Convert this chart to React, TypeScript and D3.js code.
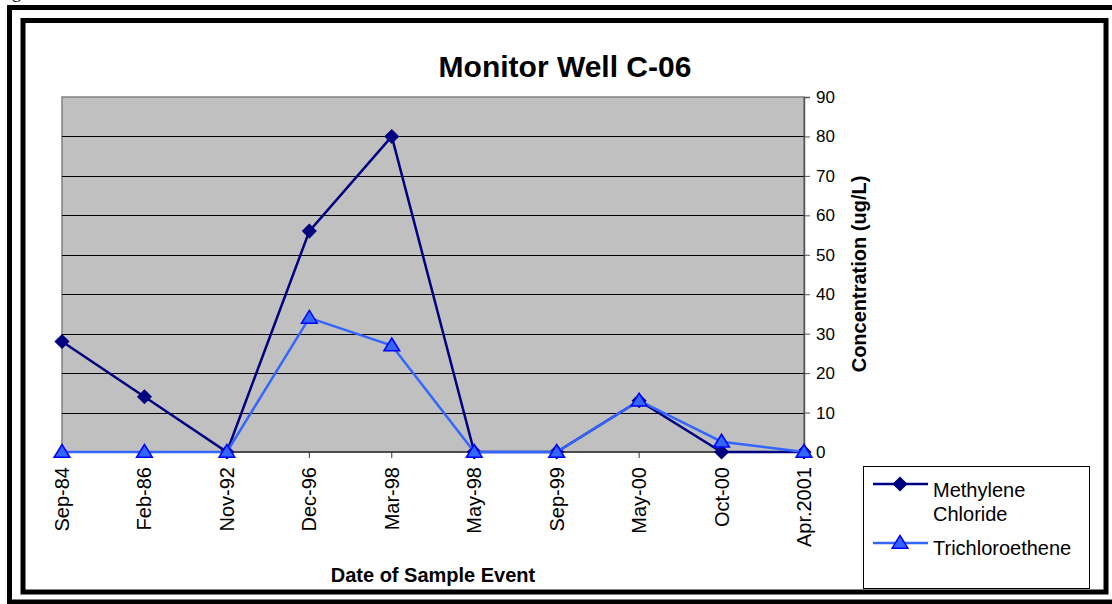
import * as d3 from "d3";
import { useEffect, useRef } from "react";

const categories = [
  "Sep-84",
  "Feb-86",
  "Nov-92",
  "Dec-96",
  "Mar-98",
  "May-98",
  "Sep-99",
  "May-00",
  "Oct-00",
  "Apr.2001",
];
const methyleneChloride = [28, 14, 0, 56, 80, 0, 0, 13, 0, 0];
const trichloroethene = [0, 0, 0, 34, 27, 0, 0, 13, 2.6, 0];
const yTicks = [0, 10, 20, 30, 40, 50, 60, 70, 80, 90];

const width = 1112;
const height = 604;
const FONT = "'Liberation Sans', Arial, sans-serif";

function diamondPath(cx: number, cy: number, r: number) {
  return `M${cx},${cy - r}L${cx + r},${cy}L${cx},${cy + r}L${cx - r},${cy}Z`;
}

function trianglePath(cx: number, cy: number, r: number) {
  return `M${cx},${cy - r}L${cx + r * 1.05},${cy + r * 0.7}L${cx - r * 1.05},${cy + r * 0.7}Z`;
}

export default function App() {
  const svgRef = useRef<SVGSVGElement>(null);

  useEffect(() => {
    if (!svgRef.current) return;
    const svg = d3.select(svgRef.current);
    svg.selectAll("*").remove();

    const plot = { left: 62, right: 804, top: 97, bottom: 452 };

    const xScale = d3
      .scalePoint<string>()
      .domain(categories)
      .range([plot.left, plot.right]);
    const yScale = d3
      .scaleLinear()
      .domain([0, 90])
      .range([plot.bottom, plot.top]);

    svg.append("rect").attr("width", width).attr("height", height).attr("fill", "white");

    // bit of text cut off from above the picture
    svg
      .append("text")
      .attr("x", 12)
      .attr("y", -2)
      .style("font-family", "'Liberation Serif', serif")
      .style("font-size", "18px")
      .text("g");

    // double frame
    svg
      .append("rect")
      .attr("x", 9.5)
      .attr("y", 7.5)
      .attr("width", 1110)
      .attr("height", 594.5)
      .attr("fill", "none")
      .attr("stroke", "#000")
      .attr("stroke-width", 5);
    svg
      .append("rect")
      .attr("x", 23)
      .attr("y", 20.5)
      .attr("width", 1083)
      .attr("height", 571.5)
      .attr("fill", "white")
      .attr("stroke", "#000")
      .attr("stroke-width", 5);

    // plot area
    svg
      .append("rect")
      .attr("x", plot.left)
      .attr("y", plot.top)
      .attr("width", plot.right - plot.left)
      .attr("height", plot.bottom - plot.top)
      .attr("fill", "#c0c0c0")
      .attr("stroke", "#808080")
      .attr("stroke-width", 1.5);

    // gridlines
    svg
      .append("g")
      .selectAll("line")
      .data(yTicks.filter((t) => t > 0 && t < 90))
      .enter()
      .append("line")
      .attr("x1", plot.left)
      .attr("x2", plot.right)
      .attr("y1", (d) => Math.round(yScale(d)) + 0.5)
      .attr("y2", (d) => Math.round(yScale(d)) + 0.5)
      .attr("stroke", "#000")
      .attr("stroke-width", 1);

    // right value axis
    const yAxis = svg
      .append("g")
      .attr("transform", `translate(${plot.right},0)`)
      .call(
        d3
          .axisRight(yScale)
          .tickValues(yTicks)
          .tickSize(6)
          .tickPadding(6)
          .tickFormat((d) => `${d}`),
      );
    yAxis.select(".domain").attr("stroke", "#555").attr("stroke-width", 1.5);
    yAxis.selectAll(".tick line").attr("stroke", "#555");
    yAxis
      .selectAll("text")
      .style("font-family", FONT)
      .style("font-size", "17px")
      .attr("fill", "#000");

    // category axis
    svg
      .append("line")
      .attr("x1", plot.left)
      .attr("x2", plot.right)
      .attr("y1", plot.bottom)
      .attr("y2", plot.bottom)
      .attr("stroke", "#333")
      .attr("stroke-width", 1.5);
    const xg = svg.append("g");
    xg.selectAll("line")
      .data(categories)
      .enter()
      .append("line")
      .attr("x1", (d) => xScale(d)!)
      .attr("x2", (d) => xScale(d)!)
      .attr("y1", plot.bottom)
      .attr("y2", plot.bottom + 6)
      .attr("stroke", "#333");
    xg.selectAll("text")
      .data(categories)
      .enter()
      .append("text")
      .attr("transform", (d) => `translate(${xScale(d)! + 7},467) rotate(-90)`)
      .attr("text-anchor", "end")
      .style("font-family", FONT)
      .style("font-size", "20px")
      .text((d) => d);

    // series
    const series = [
      { name: "Methylene Chloride", values: methyleneChloride, line: "#000080", fill: "#000080", stroke: "#000080", marker: "diamond" },
      { name: "Trichloroethene", values: trichloroethene, line: "#3366ff", fill: "#3366ff", stroke: "#0000ff", marker: "triangle" },
    ];

    series.forEach((s) => {
      const pts = categories.map((c, i) => [xScale(c)!, yScale(s.values[i])] as [number, number]);
      svg
        .append("path")
        .attr("d", d3.line()(pts))
        .attr("fill", "none")
        .attr("stroke", s.line)
        .attr("stroke-width", 2.5);
      svg
        .append("g")
        .selectAll("path")
        .data(pts)
        .enter()
        .append("path")
        .attr("d", ([x, y]) => (s.marker === "diamond" ? diamondPath(x, y, 6.5) : trianglePath(x, y, 7.5)))
        .attr("fill", s.fill)
        .attr("stroke", s.stroke)
        .attr("stroke-width", 1.5);
    });

    // titles
    svg
      .append("text")
      .attr("x", 565)
      .attr("y", 77)
      .attr("text-anchor", "middle")
      .style("font-family", FONT)
      .style("font-size", "30px")
      .style("font-weight", "bold")
      .text("Monitor Well C-06");
    svg
      .append("text")
      .attr("x", 433)
      .attr("y", 582)
      .attr("text-anchor", "middle")
      .style("font-family", FONT)
      .style("font-size", "20px")
      .style("font-weight", "bold")
      .text("Date of Sample Event");
    svg
      .append("text")
      .attr("transform", `translate(866,274) rotate(-90)`)
      .attr("text-anchor", "middle")
      .style("font-family", FONT)
      .style("font-size", "20px")
      .style("font-weight", "bold")
      .text("Concentration (ug/L)");

    // legend
    const legend = svg.append("g");
    legend
      .append("rect")
      .attr("x", 863.5)
      .attr("y", 466.5)
      .attr("width", 226)
      .attr("height", 122)
      .attr("fill", "white")
      .attr("stroke", "#000")
      .attr("stroke-width", 1);
    const legendRows = [
      { s: series[0], y: 484, lines: ["Methylene", "Chloride"], textY: 497 },
      { s: series[1], y: 543, lines: ["Trichloroethene"], textY: 555 },
    ];
    legendRows.forEach((r) => {
      legend
        .append("line")
        .attr("x1", 873)
        .attr("x2", 928)
        .attr("y1", r.y)
        .attr("y2", r.y)
        .attr("stroke", r.s.line)
        .attr("stroke-width", 2.5);
      legend
        .append("path")
        .attr("d", r.s.marker === "diamond" ? diamondPath(900, r.y, 6.5) : trianglePath(900, r.y, 7.5))
        .attr("fill", r.s.fill)
        .attr("stroke", r.s.stroke)
        .attr("stroke-width", 1.5);
      r.lines.forEach((t, i) => {
        legend
          .append("text")
          .attr("x", 933)
          .attr("y", r.textY + i * 24)
          .style("font-family", FONT)
          .style("font-size", "20px")
          .text(t);
      });
    });
  }, []);

  return (
    <div style={{ position: "absolute", left: 0, top: 0 }}>
      <svg ref={svgRef} width={width} height={height} style={{ display: "block" }} />
    </div>
  );
}
